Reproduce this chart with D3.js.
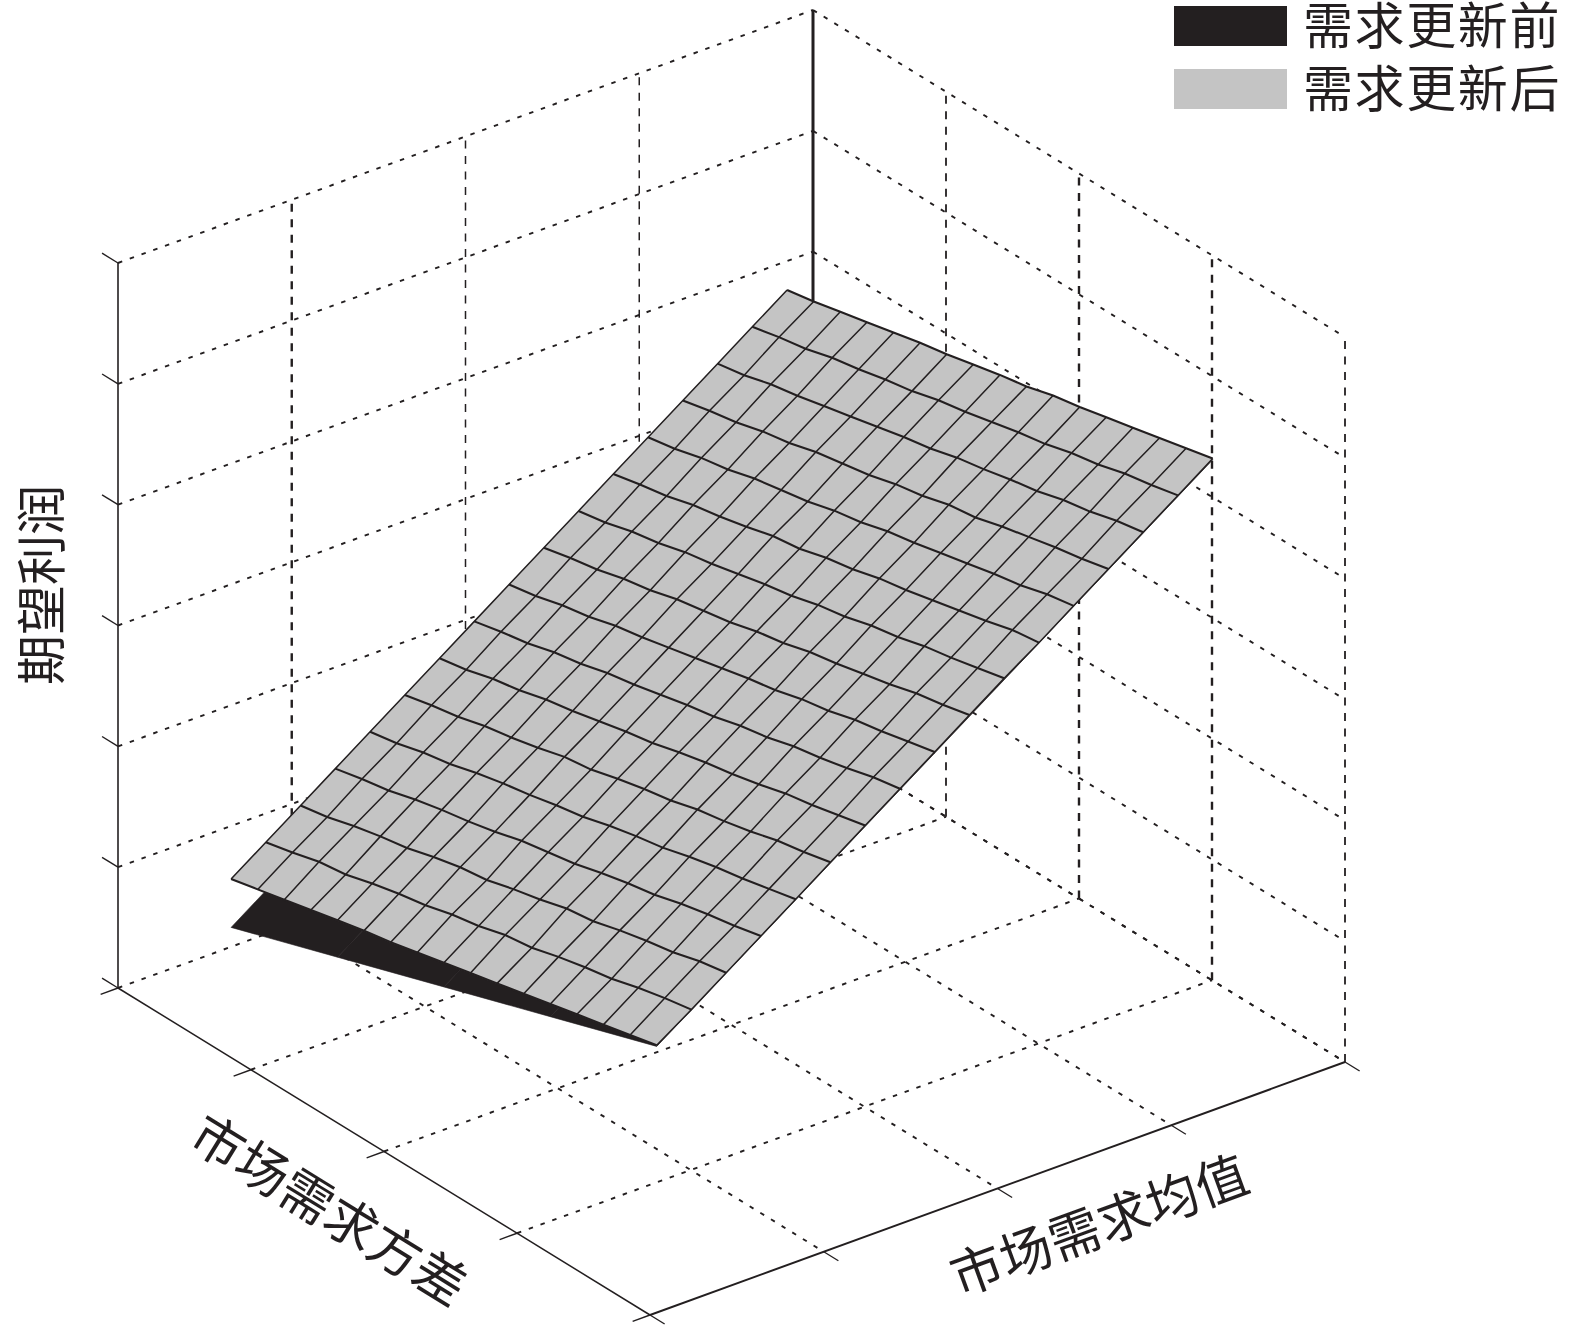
<!DOCTYPE html>
<html>
<head>
<meta charset="utf-8">
<script src="https://cdnjs.cloudflare.com/ajax/libs/d3/7.8.5/d3.min.js"></script>
<style>
  html, body { margin: 0; padding: 0; background: #fff; }
  text { font-family: "Noto Sans CJK SC", sans-serif; fill: #231f20; }
</style>
</head>
<body>
<div id="chart"></div>
<script>
const meanTicks = [0, 1, 2, 3, 4];
const varianceTicks = [0, 1, 2, 3, 4];
const profitTicks = [0, 1, 2, 3, 4, 5, 6];

const meanTitle = "市场需求均值";
const varianceTitle = "市场需求方差";
const profitTitle = "期望利润";
const legendLabels = ["需求更新前", "需求更新后"];

// surface grid, rows go along mean, columns along variance
const gridMeans = [0.36, 0.56, 0.76, 0.96, 1.16, 1.36, 1.56, 1.76, 1.96, 2.16, 2.36, 2.56, 2.76, 2.96, 3.16, 3.36, 3.56];
const gridVariances = [0.38, 0.58, 0.78, 0.98, 1.18, 1.38, 1.58, 1.78, 1.98, 2.18, 2.38, 2.58, 2.78, 2.98, 3.18, 3.38, 3.58];

const profitAfter = [
  [0.97, 1.02, 1.07, 1.12, 1.17, 1.22, 1.26, 1.31, 1.36, 1.41, 1.46, 1.51, 1.56, 1.61, 1.66, 1.71, 1.76],
  [1.17, 1.22, 1.28, 1.31, 1.37, 1.42, 1.46, 1.52, 1.56, 1.62, 1.65, 1.71, 1.76, 1.80, 1.86, 1.91, 1.95],
  [1.37, 1.41, 1.47, 1.52, 1.56, 1.62, 1.67, 1.70, 1.76, 1.81, 1.87, 1.90, 1.96, 2.01, 2.05, 2.11, 2.15],
  [1.57, 1.62, 1.66, 1.72, 1.77, 1.81, 1.86, 1.92, 1.96, 2.00, 2.06, 2.11, 2.15, 2.21, 2.26, 2.30, 2.35],
  [1.77, 1.81, 1.87, 1.91, 1.97, 2.02, 2.06, 2.11, 2.15, 2.21, 2.26, 2.30, 2.36, 2.41, 2.45, 2.50, 2.55],
  [1.97, 2.02, 2.06, 2.12, 2.16, 2.21, 2.27, 2.30, 2.36, 2.41, 2.45, 2.51, 2.55, 2.60, 2.66, 2.70, 2.75],
  [2.17, 2.21, 2.27, 2.31, 2.37, 2.41, 2.46, 2.51, 2.55, 2.61, 2.66, 2.70, 2.75, 2.81, 2.85, 2.90, 2.95],
  [2.37, 2.42, 2.46, 2.52, 2.56, 2.62, 2.66, 2.71, 2.76, 2.80, 2.86, 2.90, 2.96, 3.00, 3.05, 3.11, 3.15],
  [2.57, 2.61, 2.67, 2.71, 2.77, 2.81, 2.86, 2.91, 2.96, 3.01, 3.05, 3.11, 3.15, 3.21, 3.25, 3.30, 3.35],
  [2.77, 2.82, 2.86, 2.92, 2.96, 3.02, 3.06, 3.10, 3.16, 3.20, 3.26, 3.30, 3.35, 3.40, 3.46, 3.50, 3.55],
  [2.97, 3.01, 3.07, 3.11, 3.17, 3.21, 3.26, 3.31, 3.35, 3.41, 3.45, 3.51, 3.55, 3.61, 3.65, 3.70, 3.75],
  [3.17, 3.22, 3.26, 3.32, 3.36, 3.41, 3.47, 3.50, 3.56, 3.60, 3.66, 3.70, 3.75, 3.80, 3.85, 3.91, 3.94],
  [3.37, 3.41, 3.47, 3.51, 3.57, 3.61, 3.65, 3.71, 3.75, 3.81, 3.85, 3.90, 3.95, 4.00, 4.04, 4.10, 4.14],
  [3.57, 3.62, 3.66, 3.72, 3.76, 3.82, 3.86, 3.90, 3.96, 4.00, 4.06, 4.09, 4.15, 4.20, 4.25, 4.29, 4.34],
  [3.77, 3.81, 3.87, 3.91, 3.96, 4.01, 4.06, 4.11, 4.15, 4.21, 4.25, 4.30, 4.34, 4.40, 4.44, 4.50, 4.54],
  [3.97, 4.02, 4.06, 4.12, 4.16, 4.21, 4.25, 4.31, 4.35, 4.40, 4.45, 4.49, 4.55, 4.59, 4.65, 4.69, 4.74],
  [4.17, 4.21, 4.26, 4.31, 4.36, 4.41, 4.45, 4.50, 4.55, 4.59, 4.65, 4.69, 4.74, 4.79, 4.84, 4.89, 4.94]
];

// mostly hidden under the other surface, only the low mean edge shows
const beforeMeans = [0.36, 1.96, 3.56];
const beforeVariances = [0.38, 1.18, 1.98, 2.78, 3.58];
const profitBefore = [
  [0.57, 0.865, 1.16, 1.455, 1.75],
  [2.17, 2.46, 2.76, 3.05, 3.34],
  [3.77, 4.06, 4.35, 4.64, 4.93]
];

const width = 1575;
const height = 1329;
const black = "#231f20";
const gray = "#c4c4c4";

const svg = d3.select("#chart").append("svg")
    .attr("width", width)
    .attr("height", height)
    .style("display", "block");

// oblique projection of the 3d box
const meanX = d3.scaleLinear().domain([0, 4]).range([118, 813]);
const meanY = d3.scaleLinear().domain([0, 4]).range([988, 735]);
const varianceX = d3.scaleLinear().domain([0, 4]).range([0, 532]);
const varianceY = d3.scaleLinear().domain([0, 4]).range([0, 327]);
const profitY = d3.scaleLinear().domain([0, 6]).range([0, -725]);

function project(mean, variance, profit) {
  return [
    meanX(mean) + varianceX(variance),
    meanY(mean) + varianceY(variance) + profitY(profit)
  ];
}

const line = d3.line();

function drawLine(points, strokeWidth, dash) {
  svg.append("path")
      .attr("d", line(points))
      .attr("fill", "none")
      .attr("stroke", black)
      .attr("stroke-width", strokeWidth)
      .attr("stroke-dasharray", dash || null);
}

const obliqueDash = "4.5,8";
const verticalDash = "8,7.5";
const meanMax = d3.max(meanTicks);
const varianceMax = d3.max(varianceTicks);
const profitMax = d3.max(profitTicks);

// wall lines along the profit levels
profitTicks.forEach(p => {
  drawLine([project(0, 0, p), project(meanMax, 0, p)], 1.9, obliqueDash);
  drawLine([project(meanMax, 0, p), project(meanMax, varianceMax, p)], 1.9, obliqueDash);
});

// wall verticals
const thickMean = [1];
const thickVariance = [2, 3];
meanTicks.slice(1, -1).forEach(m => {
  drawLine([project(m, 0, 0), project(m, 0, profitMax)], thickMean.includes(m) ? 2.4 : 1.5, verticalDash);
});
varianceTicks.slice(1).forEach(v => {
  drawLine([project(meanMax, v, 0), project(meanMax, v, profitMax)], thickVariance.includes(v) ? 2.4 : 1.8, verticalDash);
});

// floor grid
meanTicks.slice(1).forEach(m => {
  drawLine([project(m, 0, 0), project(m, varianceMax, 0)], 1.9, obliqueDash);
});
varianceTicks.slice(1, -1).forEach(v => {
  drawLine([project(0, v, 0), project(meanMax, v, 0)], 1.9, obliqueDash);
});

// axes
drawLine([project(0, 0, 0), project(0, 0, profitMax)], 1.6);
drawLine([project(meanMax, 0, 0), project(meanMax, 0, profitMax)], 3);
drawLine([project(0, 0, 0), project(0, varianceMax, 0)], 1.5);
drawLine([project(0, varianceMax, 0), project(meanMax, varianceMax, 0)], 2);

// tick marks
profitTicks.forEach(p => drawLine([project(0, 0, p), project(0, -0.12, p)], 1.4));
varianceTicks.forEach(v => drawLine([project(0, v, 0), project(-0.1, v, 0)], 1.4));
meanTicks.forEach(m => drawLine([project(m, varianceMax, 0), project(m, varianceMax + 0.11, 0)], 1.4));

// surface before the update, black and underneath
function drawPatches(means, variances, values, fill) {
  d3.range(means.length - 1).forEach(i => {
    d3.range(variances.length - 1).forEach(j => {
      svg.append("path")
          .attr("d", line([
            project(means[i], variances[j], values[i][j]),
            project(means[i + 1], variances[j], values[i + 1][j]),
            project(means[i + 1], variances[j + 1], values[i + 1][j + 1]),
            project(means[i], variances[j + 1], values[i][j + 1])
          ]) + "Z")
          .attr("fill", fill)
          .attr("stroke", fill)
          .attr("stroke-width", 0.6);
    });
  });
}

drawPatches(beforeMeans, beforeVariances, profitBefore, black);
drawPatches(gridMeans, gridVariances, profitAfter, gray);

// mesh of the top surface
gridVariances.forEach((v, j) => {
  drawLine(gridMeans.map((m, i) => project(m, v, profitAfter[i][j])), 1.5);
});
gridMeans.forEach((m, i) => {
  drawLine(gridVariances.map((v, j) => project(m, v, profitAfter[i][j])), 2.1);
});

// axis titles
svg.append("text")
    .attr("transform", "translate(38,585) rotate(-90)")
    .attr("text-anchor", "middle")
    .attr("dominant-baseline", "central")
    .style("font-size", "50px")
    .text(profitTitle);

svg.append("text")
    .attr("transform", "translate(331,1207) rotate(31.6)")
    .attr("text-anchor", "middle")
    .attr("dominant-baseline", "central")
    .style("font-size", "52px")
    .text(varianceTitle);

svg.append("text")
    .attr("transform", "translate(1098,1222) rotate(-20)")
    .attr("text-anchor", "middle")
    .attr("dominant-baseline", "central")
    .style("font-size", "52px")
    .text(meanTitle);

// legend
const legendY = d3.scalePoint().domain(legendLabels).range([26, 89]);
const legendColor = d3.scaleOrdinal().domain(legendLabels).range([black, gray]);

legendLabels.forEach(label => {
  svg.append("rect")
      .attr("x", 1174)
      .attr("y", legendY(label) - 20)
      .attr("width", 113)
      .attr("height", 40)
      .attr("fill", legendColor(label));
  svg.append("text")
      .attr("x", 1303)
      .attr("y", legendY(label) - 4)
      .attr("dominant-baseline", "central")
      .style("font-size", "50px")
      .style("letter-spacing", "1.6px")
      .text(label);
});
</script>
</body>
</html>
